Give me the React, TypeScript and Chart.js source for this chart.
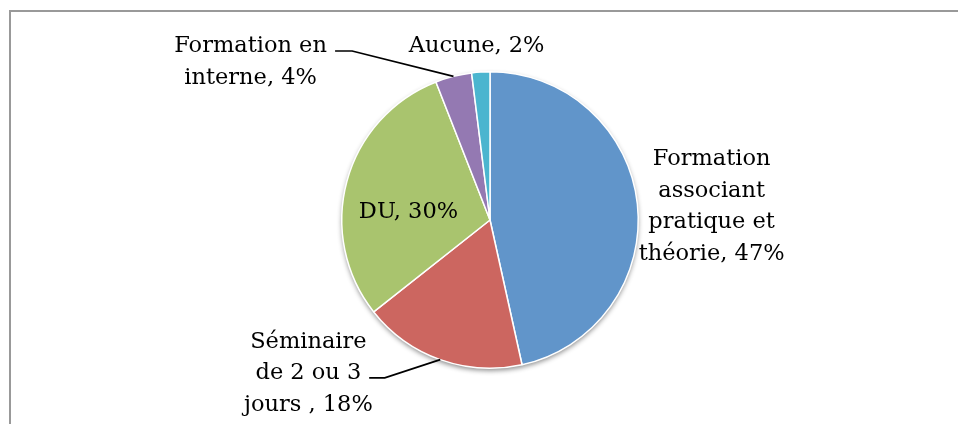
import React, { useEffect, useRef } from "react";
import { Chart, registerables } from "chart.js";

Chart.register(...registerables);

const categories = [
  "Formation associant pratique et théorie",
  "Séminaire de 2 ou 3 jours ",
  "DU",
  "Formation en interne",
  "Aucune",
];
const values = [47, 18, 30, 4, 2];
const labelLines = [
  ["Formation", "associant", "pratique et", "théorie, 47%"],
  ["Séminaire", "de 2 ou 3", "jours , 18%"],
  ["DU, 30%"],
  ["Formation en", "interne, 4%"],
  ["Aucune, 2%"],
];
const colors = ["#6195CA", "#CC6660", "#A9C46E", "#9479B2", "#4BB5CF"];

// label placement relative to pie center, in units of radius
const labelOffsets = [
  [1.495, -0.09],
  [-1.225, 1.035],
  [-0.55, -0.05],
  [-1.615, -1.065],
  [-0.09, -1.17],
];
const leaders: (number[] | null)[] = [
  null,
  [-0.815, 1.065, -0.71, 1.065],
  null,
  [-1.045, -1.14, -0.93, -1.14],
  null,
];

const FONT = "22.5px 'DejaVu Serif'";
const LINE_H = 31.5;

const framePlugin = {
  id: "frame",
  beforeDraw(chart: any) {
    const ctx = chart.ctx;
    ctx.save();
    ctx.fillStyle = "#ffffff";
    ctx.fillRect(0, 0, chart.width, chart.height);
    ctx.strokeStyle = "#999999";
    ctx.lineWidth = 2;
    ctx.strokeRect(10, 11, chart.width + 20, chart.height + 20);
    ctx.restore();
  },
  beforeDatasetsDraw(chart: any) {
    const meta = chart.getDatasetMeta(0);
    const arc = meta.data[0];
    if (!arc) return;
    const ctx = chart.ctx;
    ctx.save();
    ctx.shadowColor = "rgba(0,0,0,0.45)";
    ctx.shadowBlur = 5;
    ctx.shadowOffsetX = 0;
    ctx.shadowOffsetY = 2.5;
    ctx.fillStyle = "#ffffff";
    ctx.beginPath();
    ctx.arc(arc.x, arc.y, arc.outerRadius, 0, Math.PI * 2);
    ctx.fill();
    ctx.restore();
  },
  afterDatasetsDraw(chart: any) {
    const meta = chart.getDatasetMeta(0);
    const ctx = chart.ctx;
    ctx.save();
    ctx.font = FONT;
    ctx.fillStyle = "#000000";
    ctx.textAlign = "center";
    ctx.textBaseline = "middle";
    meta.data.forEach((arc: any, i: number) => {
      const r = arc.outerRadius;
      const cx = arc.x + labelOffsets[i][0] * r;
      const cy = arc.y + labelOffsets[i][1] * r;
      const lines = labelLines[i];
      const top = cy - ((lines.length - 1) * LINE_H) / 2;
      lines.forEach((t, k) => ctx.fillText(t, cx, top + k * LINE_H));
      const ld = leaders[i];
      if (ld) {
        const mid = (arc.startAngle + arc.endAngle) / 2;
        const ex = arc.x + Math.cos(mid) * r;
        const ey = arc.y + Math.sin(mid) * r;
        ctx.beginPath();
        ctx.strokeStyle = "#000000";
        ctx.lineWidth = 1.7;
        ctx.moveTo(arc.x + ld[0] * r, arc.y + ld[1] * r);
        ctx.lineTo(arc.x + ld[2] * r, arc.y + ld[3] * r);
        ctx.lineTo(ex, ey);
        ctx.stroke();
      }
    });
    ctx.restore();
  },
};

export default function App() {
  const ref = useRef<HTMLCanvasElement | null>(null);
  useEffect(() => {
    if (!ref.current) return;
    const chart = new Chart(ref.current, {
      type: "pie",
      data: {
        labels: categories,
        datasets: [
          {
            data: values,
            backgroundColor: colors,
            borderColor: "#ffffff",
            borderWidth: 1.5,
          },
        ],
      },
      options: {
        responsive: false,
        animation: false,
        layout: { padding: { left: 190, right: 168, top: 71, bottom: 55 } },
        plugins: {
          legend: { display: false },
          tooltip: { enabled: false },
        },
      },
      plugins: [framePlugin],
    });
    return () => chart.destroy();
  }, []);
  return (
    <div style={{ position: "fixed", left: 0, top: 0, width: 958, height: 424 }}>
      <canvas ref={ref} width={958} height={424} style={{ width: 958, height: 424 }} />
    </div>
  );
}
